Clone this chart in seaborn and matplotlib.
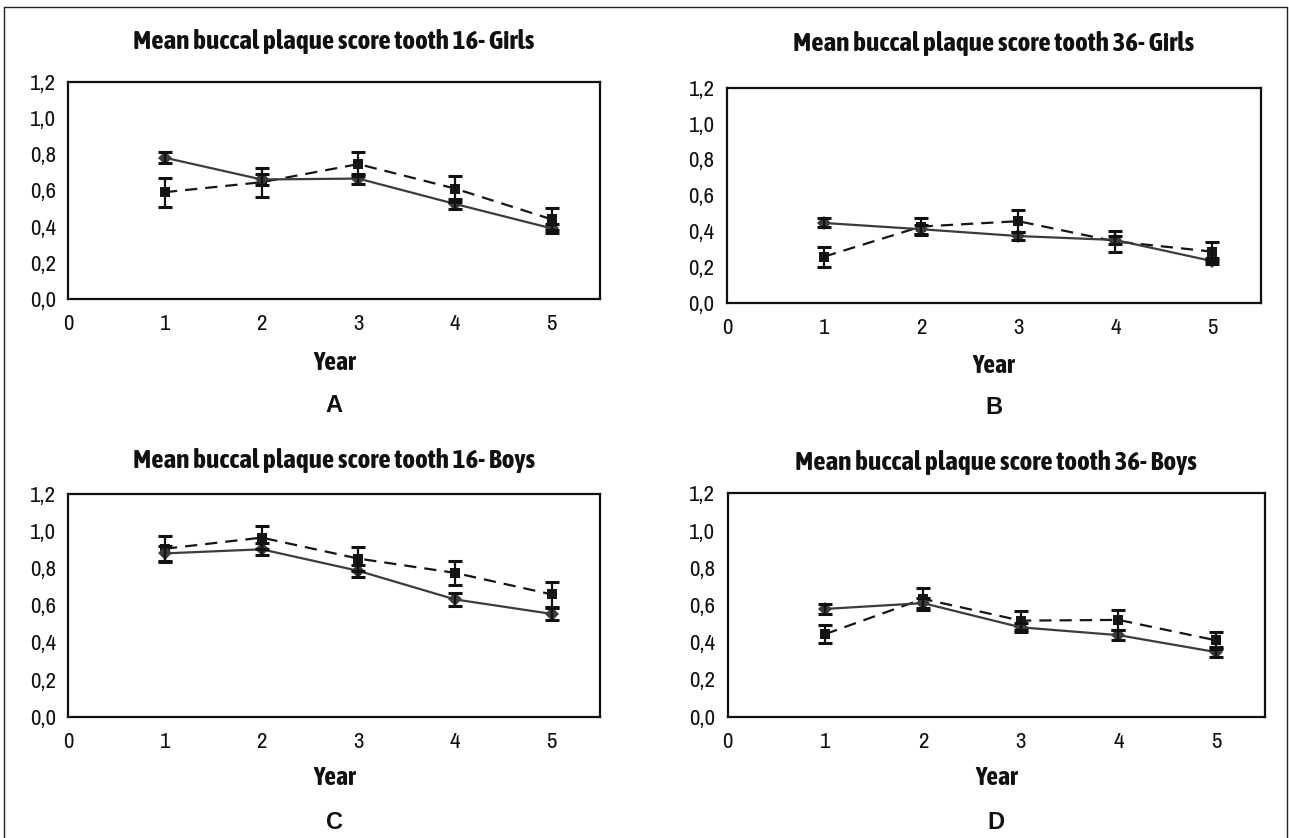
import matplotlib
matplotlib.use("Agg")
import matplotlib.pyplot as plt
import matplotlib.ticker as mticker
from matplotlib.lines import Line2D
from matplotlib import font_manager
import seaborn as sns
import pandas as pd

# ---------------- data ----------------
years = [1, 2, 3, 4, 5]
titles = ["Mean buccal plaque score tooth 16- Girls",
          "Mean buccal plaque score tooth 36- Girls",
          "Mean buccal plaque score tooth 16- Boys",
          "Mean buccal plaque score tooth 36- Boys"]
panel_letters = ["A", "B", "C", "D"]
x_label = "Year"
x_ticks = [0, 1, 2, 3, 4, 5]
y_ticks = [0.0, 0.2, 0.4, 0.6, 0.8, 1.0, 1.2]

A_solid = [0.78, 0.66, 0.665, 0.525, 0.39]
A_solid_err = [0.030, 0.030, 0.028, 0.026, 0.026]
A_dash = [0.59, 0.645, 0.745, 0.61, 0.44]
A_dash_err = [0.080, 0.080, 0.068, 0.072, 0.060]

B_solid = [0.445, 0.41, 0.372, 0.35, 0.232]
B_solid_err = [0.025, 0.025, 0.023, 0.022, 0.017]
B_dash = [0.257, 0.425, 0.455, 0.342, 0.285]
B_dash_err = [0.056, 0.047, 0.060, 0.060, 0.053]

C_solid = [0.88, 0.902, 0.786, 0.632, 0.554]
C_solid_err = [0.040, 0.033, 0.032, 0.034, 0.034]
C_dash = [0.905, 0.965, 0.852, 0.775, 0.659]
C_dash_err = [0.070, 0.060, 0.065, 0.063, 0.067]

D_solid = [0.579, 0.61, 0.48, 0.438, 0.347]
D_solid_err = [0.027, 0.025, 0.025, 0.028, 0.025]
D_dash = [0.444, 0.633, 0.516, 0.52, 0.41]
D_dash_err = [0.050, 0.058, 0.050, 0.052, 0.045]

panels = [(A_solid, A_solid_err, A_dash, A_dash_err),
          (B_solid, B_solid_err, B_dash, B_dash_err),
          (C_solid, C_solid_err, C_dash, C_dash_err),
          (D_solid, D_solid_err, D_dash, D_dash_err)]

# ---------------- style ----------------
sns.set_style("white")

# condensed sans families (Arial Narrow look); prefer one that has a bold face
fams = {}
for f in font_manager.fontManager.ttflist:
    nm = f.name
    if ("Narrow" in nm or "Condensed" in nm) and "Mono" not in nm and "Serif" not in nm:
        w = f.weight if isinstance(f.weight, int) else font_manager.weight_dict.get(f.weight, 400)
        fams.setdefault(nm, set()).add(w)

regular_fam = None
bold_fam = None
for nm, ws in fams.items():
    if any(400 <= w <= 500 for w in ws) and regular_fam is None:
        regular_fam = nm
    if any(w >= 600 for w in ws) and bold_fam is None:
        bold_fam = nm

if regular_fam is None:
    regular_fam = bold_fam
if bold_fam is None:
    bold_fam = regular_fam

if regular_fam:
    REG = [regular_fam, "Liberation Sans", "DejaVu Sans"]
    tick_fs = 16.5
else:
    REG = ["Liberation Sans", "DejaVu Sans"]
    tick_fs = 14.5
if bold_fam and any(w >= 600 for w in fams.get(bold_fam, [])):
    BOLD = [bold_fam, "Liberation Sans", "DejaVu Sans"]
    title_fs, label_fs = 19.5, 18.5
else:
    BOLD = ["Liberation Sans", "DejaVu Sans"]
    title_fs, label_fs = 15.2, 15.5
plt.rcParams["font.family"] = REG

W, H = 1289, 838
fig = plt.figure(figsize=(W / 100, H / 100), dpi=100)

# axes boxes in pixels: left, right, top, bottom
boxes = [(68.3, 600.0, 81.7, 299.0),
         (727.0, 1261.0, 87.7, 302.7),
         (68.3, 600.0, 494.0, 716.7),
         (727.7, 1265.0, 493.3, 716.7)]
title_y = [42, 43, 460, 462]
year_y = [363, 365, 777, 777]
letter_y = [405, 407, 822, 822]

solid_col = "#3c3c3c"
dash_col = "#161616"

fmt = mticker.FuncFormatter(lambda v, p: f"{v:.1f}".replace(".", ","))

for i, (s, se, d, de) in enumerate(panels):
    l, r, t, b = boxes[i]
    ax = fig.add_axes([l / W, 1 - b / H, (r - l) / W, (b - t) / H])
    df = pd.DataFrame({
        "year": years + years,
        "score": s + d,
        "group": ["solid"] * len(years) + ["dashed"] * len(years),
    })
    sns.lineplot(data=df, x="year", y="score", hue="group", style="group",
                 hue_order=["dashed", "solid"], style_order=["dashed", "solid"],
                 palette={"solid": solid_col, "dashed": dash_col},
                 markers={"solid": "D", "dashed": "s"},
                 dashes={"solid": "", "dashed": (5.5, 3.6)},
                 markersize=7, markeredgewidth=0, linewidth=1.6,
                 errorbar=None, legend=False, ax=ax, zorder=3)
    ax.errorbar(years, d, yerr=de, fmt="none", ecolor="#111111",
                elinewidth=1.6, capsize=5.0, capthick=2.2, zorder=4)
    ax.errorbar(years, s, yerr=se, fmt="none", ecolor="#111111",
                elinewidth=1.6, capsize=5.0, capthick=2.2, zorder=4)

    ax.set_xlim(0, 5.5)
    ax.set_ylim(0, 1.2)
    ax.set_xticks(x_ticks)
    ax.set_yticks(y_ticks)
    ax.yaxis.set_major_formatter(fmt)
    ax.set_xlabel("")
    ax.set_ylabel("")
    for sp in ax.spines.values():
        sp.set_visible(True)
        sp.set_color("#111111")
        sp.set_linewidth(1.6)
    ax.tick_params(axis="both", which="major", direction="out", length=4,
                   width=1.3, color="#111111", labelsize=tick_fs, labelcolor="#111111")
    ax.tick_params(axis="x", pad=7)
    ax.tick_params(axis="y", pad=5)
    ax.grid(False)

    cx = (l + r) / 2
    fig.text(cx / W, 1 - title_y[i] / H, titles[i], ha="center", va="center",
             fontsize=title_fs, fontweight="bold", color="#111111", family=BOLD)
    fig.text(cx / W, 1 - year_y[i] / H, x_label, ha="center", va="center",
             fontsize=label_fs, fontweight="bold", color="#111111", family=BOLD)
    fig.text(cx / W, 1 - letter_y[i] / H, panel_letters[i], ha="center", va="center",
             fontsize=17, fontweight="bold", color="#111111",
             family=["Liberation Sans", "DejaVu Sans"])

# outer frame
frame_kw = dict(color="#222222", linewidth=1.0, transform=fig.transFigure)
fig.add_artist(Line2D([4 / W, 4 / W], [0, 1 - 6.7 / H], **frame_kw))
fig.add_artist(Line2D([4 / W, 1286.7 / W], [1 - 6.7 / H, 1 - 6.7 / H], **frame_kw))
fig.add_artist(Line2D([1286.7 / W, 1286.7 / W], [0, 1 - 6.7 / H], **frame_kw))

fig.savefig("out.png", dpi=100, facecolor="white")
